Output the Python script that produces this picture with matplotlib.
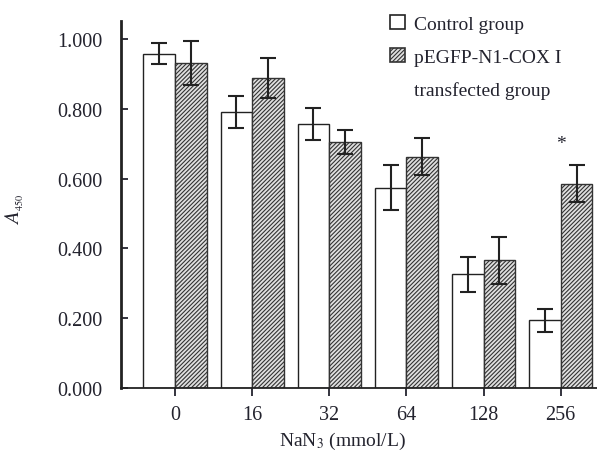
import numpy as np
import matplotlib
matplotlib.use("Agg")
import matplotlib.pyplot as plt
from matplotlib.patches import Patch

plt.rcParams['font.family'] = ['Liberation Serif', 'DejaVu Serif']
plt.rcParams['mathtext.fontset'] = 'stix'
plt.rcParams['hatch.linewidth'] = 0.8

# data
doses = ["0", "16", "32", "64", "128", "256"]
control = [0.958, 0.792, 0.756, 0.574, 0.326, 0.194]
control_err = [0.031, 0.046, 0.046, 0.065, 0.050, 0.033]
transfected = [0.931, 0.888, 0.704, 0.662, 0.366, 0.585]
transfected_err = [0.062, 0.057, 0.034, 0.053, 0.067, 0.053]
star_group = 5
star_y = 0.70

txt = '#23232e'
x = np.arange(len(doses))
w = 0.41

fig = plt.figure(figsize=(5.97, 4.52), dpi=100)
ax = fig.add_axes([121/597, 1-389/452, 1-121/597, 367/452])

ax.bar(x - w/2, control, w, color='white', edgecolor='#222', linewidth=1.0)
ax.bar(x + w/2, transfected, w, color='#e0e0e0', edgecolor='#333', linewidth=1.0, hatch='////////')
ax.errorbar(x - w/2, control, yerr=control_err, fmt='none', ecolor='#222', elinewidth=1.5, capsize=5.5, capthick=1.5)
ax.errorbar(x + w/2, transfected, yerr=transfected_err, fmt='none', ecolor='#222', elinewidth=1.5, capsize=5.5, capthick=1.5)
ax.text(star_group, star_y, '*', ha='center', va='center', fontsize=14, color=txt)

ax.set_xlim(-0.70, 5.47)
ax.set_ylim(0, 1.0516)
ax.set_xticks(x)
ax.set_xticklabels(doses)
ax.set_yticks(np.arange(0, 1.01, 0.2))
ax.set_yticklabels(['%.3f' % v for v in np.arange(0, 1.01, 0.2)])
ax.tick_params(axis='y', direction='in', length=5, width=1.3, pad=13.5, labelsize=14.5, colors=txt)
ax.tick_params(axis='x', direction='out', length=6, width=1.3, pad=6, labelsize=14.5, colors=txt)
for s in ['top', 'right']:
    ax.spines[s].set_visible(False)
ax.spines['left'].set_linewidth(2.0)
ax.spines['bottom'].set_linewidth(1.3)
ax.spines['left'].set_color('#222')
ax.spines['bottom'].set_color('#222')

ax.set_xlabel('NaN$_3$ (mmol/L)', fontsize=14, color=txt, va='center')
ax.xaxis.set_label_coords(0.466, -0.142)
ax.set_ylabel('$\\mathit{A}_{_{450}}$', fontsize=15, color=txt)
ax.yaxis.set_label_coords(-0.200, 0.488)

handles = [Patch(facecolor='white', edgecolor='#222', linewidth=1.2),
           Patch(facecolor='#e0e0e0', edgecolor='#333', linewidth=1.2, hatch='////////'),
           Patch(facecolor='none', edgecolor='none')]
labels = ['Control group', 'pEGFP-N1-COX I', 'transfected group']
leg = fig.legend(handles, labels, loc='upper left', bbox_to_anchor=(390/597, 1-16/452),
                 frameon=False, fontsize=14, handlelength=0.75, handleheight=0.75,
                 handletextpad=0.5, labelspacing=0.78, borderpad=0, borderaxespad=0)
for t in leg.get_texts():
    t.set_color(txt)

fig.savefig('out.png', dpi=100)
